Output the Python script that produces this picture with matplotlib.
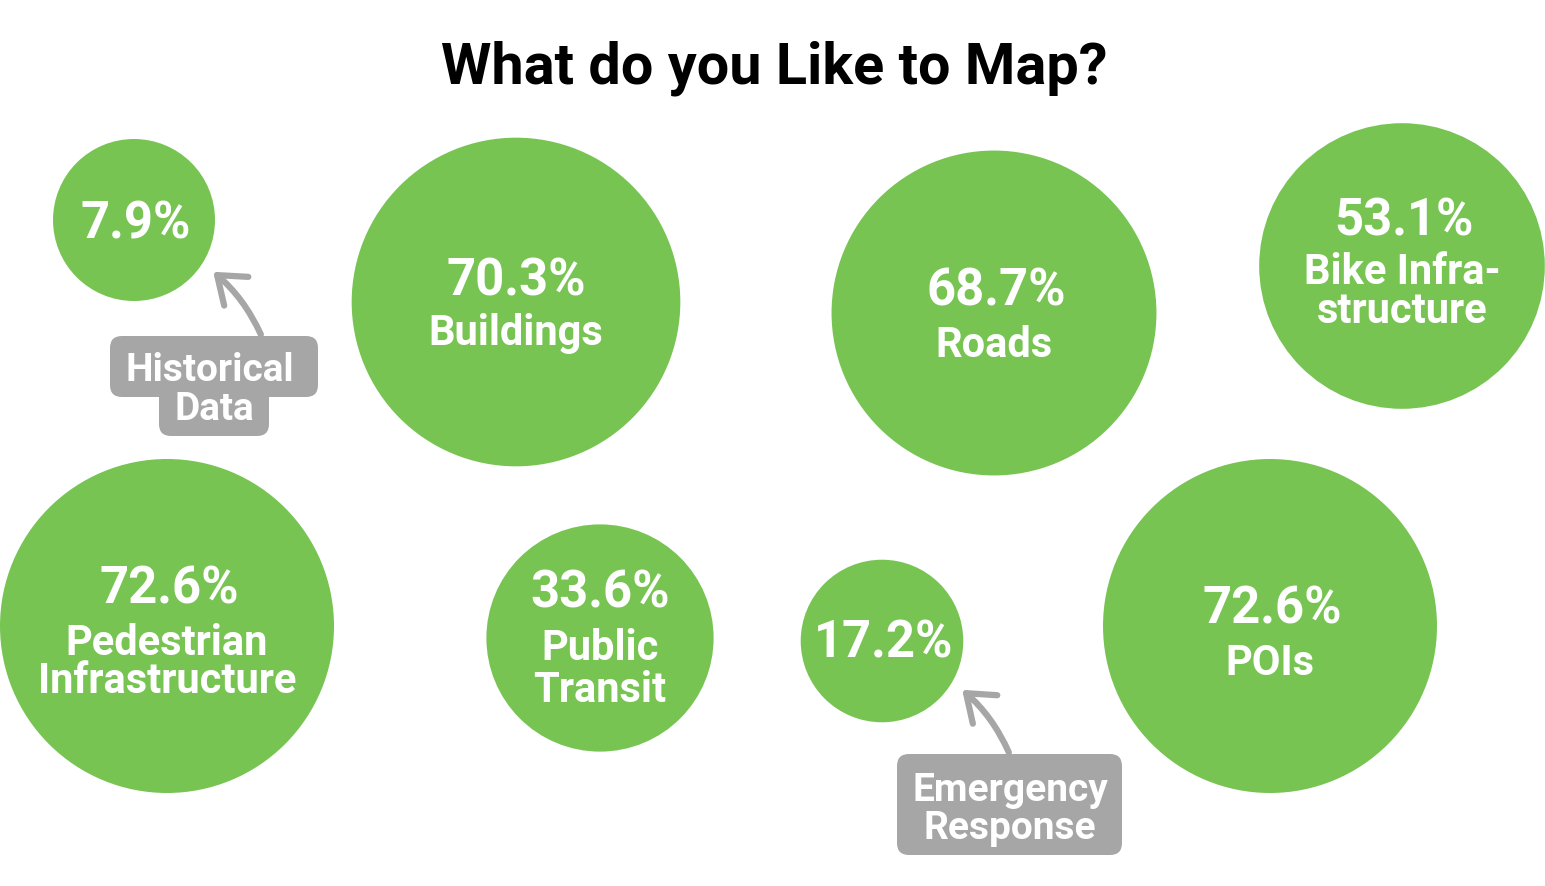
import numpy as np
import matplotlib as mpl
mpl.use('Agg')
import matplotlib.pyplot as plt
from matplotlib.patches import Circle, FancyBboxPatch, FancyArrowPatch

plt.rcParams['font.family'] = ['Roboto', 'DejaVu Sans']

# data
percent = [7.9, 70.3, 68.7, 53.1, 72.6, 33.6, 17.2, 72.6]
labels = ['', 'Buildings', 'Roads', 'Bike Infra-\nstructure',
          'Pedestrian\nInfrastructure', 'Public\nTransit', '', 'POIs']
callouts = ['Historical\nData', 'Emergency\nResponse']

# layout (pixels, y down)
cx = [134, 516, 994, 1402, 167, 600, 882, 1270]
cy = [220, 302, 313, 266, 626, 638, 641, 626]
pct_dy = [18, -7, -7, -31, -22, -30, 17, -3]     # baseline of the percentage
lab_dy = [0, 43, 44, 18, 29, 22, 0, 49]          # baseline of first label line
lab_gap = [0, 0, 0, 39, 38, 42, 0, 0]
pct_dx = [2, 0, 2, 2, 2, 0, 2, 2]
green = '#77C453'
grey = '#A6A6A6'

W, H = 1545, 886
fig = plt.figure(figsize=(W / 100, H / 100), dpi=100)
ax = fig.add_axes([0, 0, 1, 1])
ax.set_xlim(0, W)
ax.set_ylim(H, 0)
ax.axis('off')

# radius: sqrt scale with a minimum size
scale = 167 / np.sqrt(72.6)
for i, v in enumerate(percent):
    r = max(scale * np.sqrt(v), 81)
    ax.add_patch(Circle((cx[i], cy[i]), r, color=green, lw=0))
    ax.text(cx[i] + pct_dx[i], cy[i] + pct_dy[i], '%.1f%%' % v, ha='center', va='baseline',
            color='white', fontsize=36.5, fontweight='bold')
    if labels[i]:
        for j, line in enumerate(labels[i].split('\n')):
            ax.text(cx[i], cy[i] + lab_dy[i] + j * lab_gap[i], line, ha='center',
                    va='baseline', color='white', fontsize=30, fontweight='bold')

# callout: Historical Data
ax.add_patch(FancyBboxPatch((110, 336), 208, 61, boxstyle='round,pad=0,rounding_size=12',
                            color=grey, lw=0))
ax.add_patch(FancyBboxPatch((159, 380), 110, 56, boxstyle='round,pad=0,rounding_size=12',
                            color=grey, lw=0))
h1, h2 = callouts[0].split('\n')
ax.text(210, 381, h1, ha='center', va='baseline', color='white', fontsize=28, fontweight='bold')
ax.text(214, 420, h2, ha='center', va='baseline', color='white', fontsize=28, fontweight='bold')
ax.add_patch(FancyArrowPatch((262, 337), (211, 270), arrowstyle='->,head_length=0.6,head_width=0.45',
                             connectionstyle='arc3,rad=0.12', mutation_scale=30,
                             color=grey, lw=4.5))

# callout: Emergency Response
ax.add_patch(FancyBboxPatch((897, 754), 225, 101, boxstyle='round,pad=0,rounding_size=12',
                            color=grey, lw=0))
e1, e2 = callouts[1].split('\n')
ax.text(1010, 801, e1, ha='center', va='baseline', color='white', fontsize=28, fontweight='bold')
ax.text(1010, 839, e2, ha='center', va='baseline', color='white', fontsize=28, fontweight='bold')
ax.add_patch(FancyArrowPatch((1010, 755), (960, 688), arrowstyle='->,head_length=0.6,head_width=0.45',
                             connectionstyle='arc3,rad=0.12', mutation_scale=30,
                             color=grey, lw=4.5))

ax.text(W / 2 + 2, 83, 'What do you Like to Map?', ha='center', va='baseline',
        fontsize=41.5, fontweight='bold', color='black')

fig.savefig('out.png', dpi=100)
